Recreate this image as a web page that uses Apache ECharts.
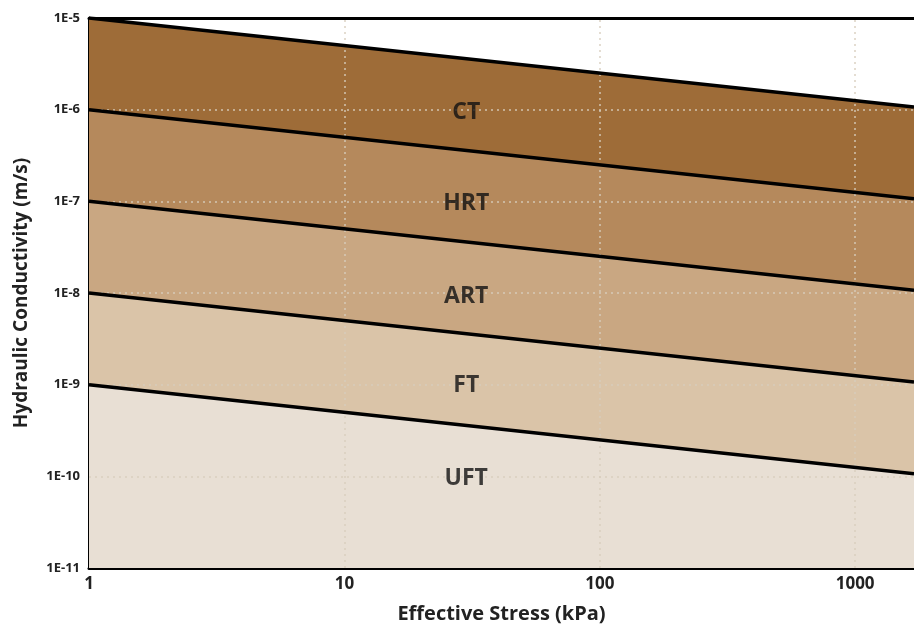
<!DOCTYPE html>
<html>
<head>
<meta charset="utf-8">
<script src="https://cdn.jsdelivr.net/npm/echarts@6/dist/echarts.min.js"></script>
<style>
  html, body { margin: 0; padding: 0; background: #fff; }
  #chart { width: 914px; height: 631px; }
</style>
</head>
<body>
<div id="chart"></div>
<script>
// stress range (kPa) – left and right edge of the plot
const stressRange = [1, 1700];
// conductivity range (m/s)
const kRange = [1e-11, 1e-5];

// boundary lines: conductivity at 1 kPa and at the right edge
const boundaryStart = [1e-5, 1e-6, 1e-7, 1e-8, 1e-9];
const boundaryEnd = [1.07e-6, 1.07e-7, 1.07e-8, 1.07e-9, 1.07e-10];

// band below each boundary
const bandNames = ['CT', 'HRT', 'ART', 'FT', 'UFT'];
const bandColors = ['#9e6c38', '#b5895c', '#c9a782', '#dac4a8', '#e8dfd4'];
const labelStress = [30, 30, 30, 30, 30];
const labelK = [9.3e-7, 9.5e-8, 9.1e-9, 9.8e-10, 9.6e-11];

// grid lines
const gridX = [10, 100, 1000];
const gridY = [1e-6, 1e-7, 1e-8, 1e-9, 1e-10];

const font = '"Open Sans", "DejaVu Sans", sans-serif';
const gridStyle = { type: [2, 4], color: 'rgba(215,205,190,0.9)', width: 1.5 };

const chart = echarts.init(document.getElementById('chart'));

const boundaryData = bandNames.map((_, i) =>
  [[stressRange[0], boundaryStart[i]], [stressRange[1], boundaryEnd[i]]]);

// filled bands (below grid lines)
const areaSeries = bandNames.map((name, i) => ({
  name: name,
  type: 'line',
  symbol: 'none',
  silent: true,
  lineStyle: { width: 0 },
  areaStyle: { color: bandColors[i], opacity: 1, origin: 'start' },
  data: boundaryData[i],
  z: 1
}));

// black boundary lines (above grid lines)
const lineSeries = bandNames.map((name, i) => ({
  name: name + ' boundary',
  type: 'line',
  symbol: 'none',
  silent: true,
  lineStyle: { color: '#000', width: 3.5 },
  data: boundaryData[i],
  z: 3
}));

function isDecade(v) {
  const l = Math.log10(v);
  return Math.abs(l - Math.round(l)) < 1e-6;
}

chart.setOption({
  animation: false,
  grid: { left: 89, right: 0, top: 18, bottom: 63, containLabel: false },
  xAxis: [
    {
      type: 'log',
      logBase: 10,
      min: stressRange[0],
      max: stressRange[1],
      name: 'Effective Stress (kPa)',
      nameLocation: 'middle',
      nameGap: 36,
      nameTextStyle: { fontFamily: font, fontWeight: 'bold', fontSize: 20, color: '#222' },
      axisLine: { show: true, onZero: false, lineStyle: { color: '#000', width: 3 } },
      axisTick: { show: false },
      splitLine: { show: false },
      axisLabel: {
        fontFamily: font, fontWeight: 'bold', fontSize: 17, color: '#222', margin: 8,
        showMaxLabel: false,
        formatter: v => isDecade(v) ? String(Math.round(v)) : ''
      }
    },
    {
      type: 'log',
      position: 'top',
      min: stressRange[0],
      max: stressRange[1],
      axisLine: { show: true, lineStyle: { color: '#000', width: 3 } },
      axisTick: { show: false },
      axisLabel: { show: false },
      splitLine: { show: false }
    }
  ],
  yAxis: {
    type: 'log',
    logBase: 10,
    min: kRange[0],
    max: kRange[1],
    name: 'Hydraulic Conductivity (m/s)',
    nameLocation: 'middle',
    nameGap: 58,
    nameTextStyle: { fontFamily: font, fontWeight: 'bold', fontSize: 19, color: '#222' },
    axisLine: { show: true, lineStyle: { color: '#000', width: 3 } },
    axisTick: { show: false },
    splitLine: { show: false },
    axisLabel: {
      fontFamily: font, fontWeight: 'bold', fontSize: 13, color: '#222', margin: 9,
      formatter: v => '1E' + Math.round(Math.log10(v))
    }
  },
  series: [
    ...areaSeries,
    ...lineSeries,
    {
      type: 'scatter',
      symbolSize: 0,
      silent: true,
      z: 5,
      label: {
        show: true,
        position: 'inside',
        formatter: p => p.name,
        fontFamily: font,
        fontWeight: 'bold',
        fontSize: 23,
        color: '#111'
      },
      data: bandNames.map((n, i) => ({ name: n, value: [labelStress[i], labelK[i]] })),
      markLine: {
        silent: true,
        z: 2,
        symbol: 'none',
        label: { show: false },
        lineStyle: gridStyle,
        data: [
          ...gridX.map(x => [{ coord: [x, kRange[0]] }, { coord: [x, kRange[1]] }]),
          ...gridY.map(y => [{ coord: [stressRange[0], y] }, { coord: [stressRange[1], y] }])
        ]
      }
    }
  ]
});
</script>
</body>
</html>
